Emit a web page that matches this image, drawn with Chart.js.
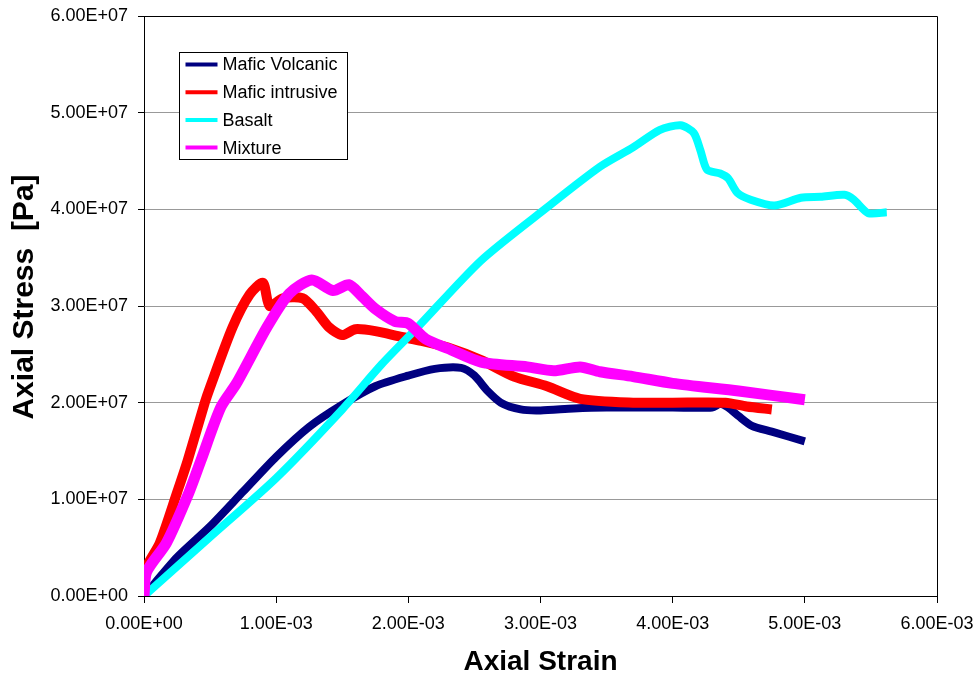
<!DOCTYPE html>
<html>
<head>
<meta charset="utf-8">
<script src="https://cdn.jsdelivr.net/npm/chart.js@4.4.0/dist/chart.umd.min.js"></script>
<style>
  body { margin: 0; background: #fff; }
  canvas { display: block; }
</style>
</head>
<body>
<canvas id="stressChart" width="975" height="679"></canvas>
<script>
// values: strain in 1e-3, stress in 1e7 Pa
const STRAIN_UNIT = 1e-3;
const STRESS_UNIT = 1e7;

const volcanicStrain = [0, 0.25, 0.5, 0.75, 1.0, 1.25, 1.5, 1.75, 2.0, 2.2, 2.4, 2.5, 2.6, 2.7, 2.85, 3.0, 3.25, 3.5, 4.0, 4.3, 4.36, 4.42, 4.5, 4.6, 4.75, 5.0];
const volcanicStress = [0, 0.4, 0.72, 1.08, 1.44, 1.75, 1.98, 2.17, 2.28, 2.35, 2.36, 2.28, 2.12, 2.0, 1.93, 1.92, 1.94, 1.95, 1.95, 1.95, 1.99, 1.95, 1.86, 1.76, 1.7, 1.6];

const intrusiveStrain = [0, 0.01, 0.12, 0.25, 0.33, 0.46, 0.5, 0.67, 0.8, 0.9, 0.95, 1.05, 1.2, 1.3, 1.4, 1.5, 1.6, 1.75, 1.95, 2.1, 2.3, 2.55, 2.8, 3.05, 3.3, 3.7, 4.0, 4.4, 4.56, 4.75];
const intrusiveStress = [0, 0.27, 0.55, 1.07, 1.4, 2.0, 2.16, 2.78, 3.12, 3.24, 3.0, 3.08, 3.08, 2.95, 2.78, 2.7, 2.76, 2.74, 2.68, 2.64, 2.57, 2.44, 2.27, 2.17, 2.04, 2.0, 2.0, 2.0, 1.96, 1.93];

const basaltStrain = [0, 0.5, 1.0, 1.5, 1.8, 2.07, 2.55, 3.05, 3.45, 3.7, 3.9, 4.06, 4.16, 4.21, 4.26, 4.36, 4.42, 4.49, 4.59, 4.77, 4.97, 5.12, 5.3, 5.37, 5.48, 5.62];
const basaltStress = [0, 0.61, 1.22, 1.93, 2.4, 2.78, 3.47, 4.02, 4.44, 4.64, 4.82, 4.87, 4.79, 4.61, 4.41, 4.37, 4.32, 4.17, 4.1, 4.04, 4.12, 4.13, 4.15, 4.1, 3.96, 3.97];

const mixtureStrain = [0, 0.02, 0.17, 0.34, 0.43, 0.58, 0.7, 0.93, 1.1, 1.27, 1.43, 1.55, 1.65, 1.75, 1.9, 2.0, 2.13, 2.3, 2.55, 2.9, 3.1, 3.3, 3.45, 3.7, 4.0, 4.5, 5.0];
const mixtureStress = [0, 0.25, 0.55, 1.07, 1.4, 1.95, 2.2, 2.78, 3.13, 3.27, 3.16, 3.22, 3.1, 2.97, 2.84, 2.82, 2.66, 2.56, 2.42, 2.37, 2.33, 2.37, 2.32, 2.27, 2.2, 2.12, 2.03];

const seriesNames = ["Mafic Volcanic", "Mafic intrusive", "Basalt", "Mixture"];
const seriesColors = ["#000080", "#ff0000", "#00ffff", "#ff00ff"];

const xTickValues = [0, 1, 2, 3, 4, 5, 6];
const xTickLabels = ["0.00E+00", "1.00E-03", "2.00E-03", "3.00E-03", "4.00E-03", "5.00E-03", "6.00E-03"];
const yTickValues = [0, 1, 2, 3, 4, 5, 6];
const yTickLabels = ["0.00E+00", "1.00E+07", "2.00E+07", "3.00E+07", "4.00E+07", "5.00E+07", "6.00E+07"];

const FONT = "'Liberation Sans', Arial, sans-serif";

function toPoints(strain, stress) {
    return strain.map((s, i) => ({ x: s * STRAIN_UNIT, y: stress[i] * STRESS_UNIT }));
}

const seriesData = [
    toPoints(volcanicStrain, volcanicStress),
    toPoints(intrusiveStrain, intrusiveStress),
    toPoints(basaltStrain, basaltStress),
    toPoints(mixtureStrain, mixtureStress)
];
const lineWidths = [8, 10, 8, 11];

// later series drawn on top, like the original
const datasets = seriesData.map((pts, i) => ({
    label: seriesNames[i],
    data: pts,
    borderColor: seriesColors[i],
    backgroundColor: seriesColors[i],
    borderWidth: lineWidths[i],
    borderJoinStyle: "round",
    pointRadius: 0,
    tension: 0.25,
    clip: 0,
    order: seriesData.length - 1 - i
}));

// top and right edges of the plot box
const framePlugin = {
    id: "frame",
    afterDraw(chart) {
        const { ctx, chartArea: a } = chart;
        ctx.save();
        ctx.strokeStyle = "#000";
        ctx.lineWidth = 1;
        ctx.beginPath();
        ctx.moveTo(Math.round(a.left) + 0.5, Math.round(a.top) + 0.5);
        ctx.lineTo(Math.round(a.right) + 0.5, Math.round(a.top) + 0.5);
        ctx.lineTo(Math.round(a.right) + 0.5, Math.round(a.bottom) + 0.5);
        ctx.stroke();
        ctx.restore();
    }
};

// y axis title, sitting a little above the middle of the axis
const yTitlePlugin = {
    id: "yTitle",
    afterDraw(chart) {
        const { ctx, chartArea: a } = chart;
        ctx.save();
        ctx.translate(25, (a.top + a.bottom) / 2 - 9);
        ctx.rotate(-Math.PI / 2);
        ctx.font = "bold 30px " + FONT;
        ctx.fillStyle = "#000";
        ctx.textAlign = "center";
        ctx.textBaseline = "middle";
        ctx.fillText("Axial Stress  [Pa]", 0, 0);
        ctx.restore();
    }
};

// boxed legend inside the plot, upper left
const legendBoxPlugin = {
    id: "legendBox",
    afterDraw(chart) {
        const { ctx, chartArea: a } = chart;
        const x = Math.round(a.left) + 35.5;
        const y = Math.round(a.top) + 36.5;
        const w = 168, h = 107;
        ctx.save();
        ctx.fillStyle = "#fff";
        ctx.fillRect(x, y, w, h);
        ctx.strokeStyle = "#000";
        ctx.lineWidth = 1;
        ctx.strokeRect(x, y, w, h);
        ctx.font = "18px " + FONT;
        ctx.textBaseline = "middle";
        seriesNames.forEach((name, i) => {
            const rowY = y + 12 + i * 27.7;
            ctx.strokeStyle = seriesColors[i];
            ctx.lineWidth = 4;
            ctx.beginPath();
            ctx.moveTo(x + 6, rowY);
            ctx.lineTo(x + 38, rowY);
            ctx.stroke();
            ctx.fillStyle = "#000";
            ctx.fillText(name, x + 43, rowY + 1);
        });
        ctx.restore();
    }
};

const ctx = document.getElementById("stressChart").getContext("2d");

new Chart(ctx, {
    type: "line",
    data: { datasets: datasets },
    options: {
        responsive: false,
        animation: false,
        parsing: false,
        layout: { padding: { top: 16, right: 38, left: 0, bottom: 0 } },
        scales: {
            x: {
                type: "linear",
                min: 0,
                max: 6 * STRAIN_UNIT,
                afterBuildTicks: scale => {
                    scale.ticks = xTickValues.map(v => ({ value: v * STRAIN_UNIT }));
                },
                afterFit: scale => {
                    scale.height = 83;
                    scale.paddingLeft = 0;
                    scale.paddingRight = 0;
                },
                ticks: {
                    callback: (v, i) => xTickLabels[i],
                    color: "#000",
                    font: { family: FONT, size: 18 },
                    padding: 10,
                    maxRotation: 0,
                    autoSkip: false
                },
                grid: { drawOnChartArea: false, tickLength: 7, color: "#000" },
                border: { color: "#000", width: 1 },
                title: {
                    display: true,
                    text: "Axial Strain",
                    color: "#000",
                    font: { family: FONT, size: 28, weight: "bold" },
                    padding: { top: 0, bottom: 0 }
                }
            },
            y: {
                type: "linear",
                min: 0,
                max: 6 * STRESS_UNIT,
                afterBuildTicks: scale => {
                    scale.ticks = yTickValues.map(v => ({ value: v * STRESS_UNIT }));
                },
                afterFit: scale => {
                    scale.width = 144;
                    scale.paddingTop = 0;
                    scale.paddingBottom = 0;
                },
                ticks: {
                    callback: (v, i) => yTickLabels[i],
                    color: "#000",
                    font: { family: FONT, size: 18 },
                    padding: 10,
                    autoSkip: false
                },
                grid: { color: "#999999", lineWidth: 1, tickLength: 6, tickColor: "#000" },
                border: { color: "#000", width: 1 }
            }
        },
        plugins: {
            legend: { display: false },
            tooltip: { enabled: false }
        }
    },
    plugins: [framePlugin, yTitlePlugin, legendBoxPlugin]
});
</script>
</body>
</html>
